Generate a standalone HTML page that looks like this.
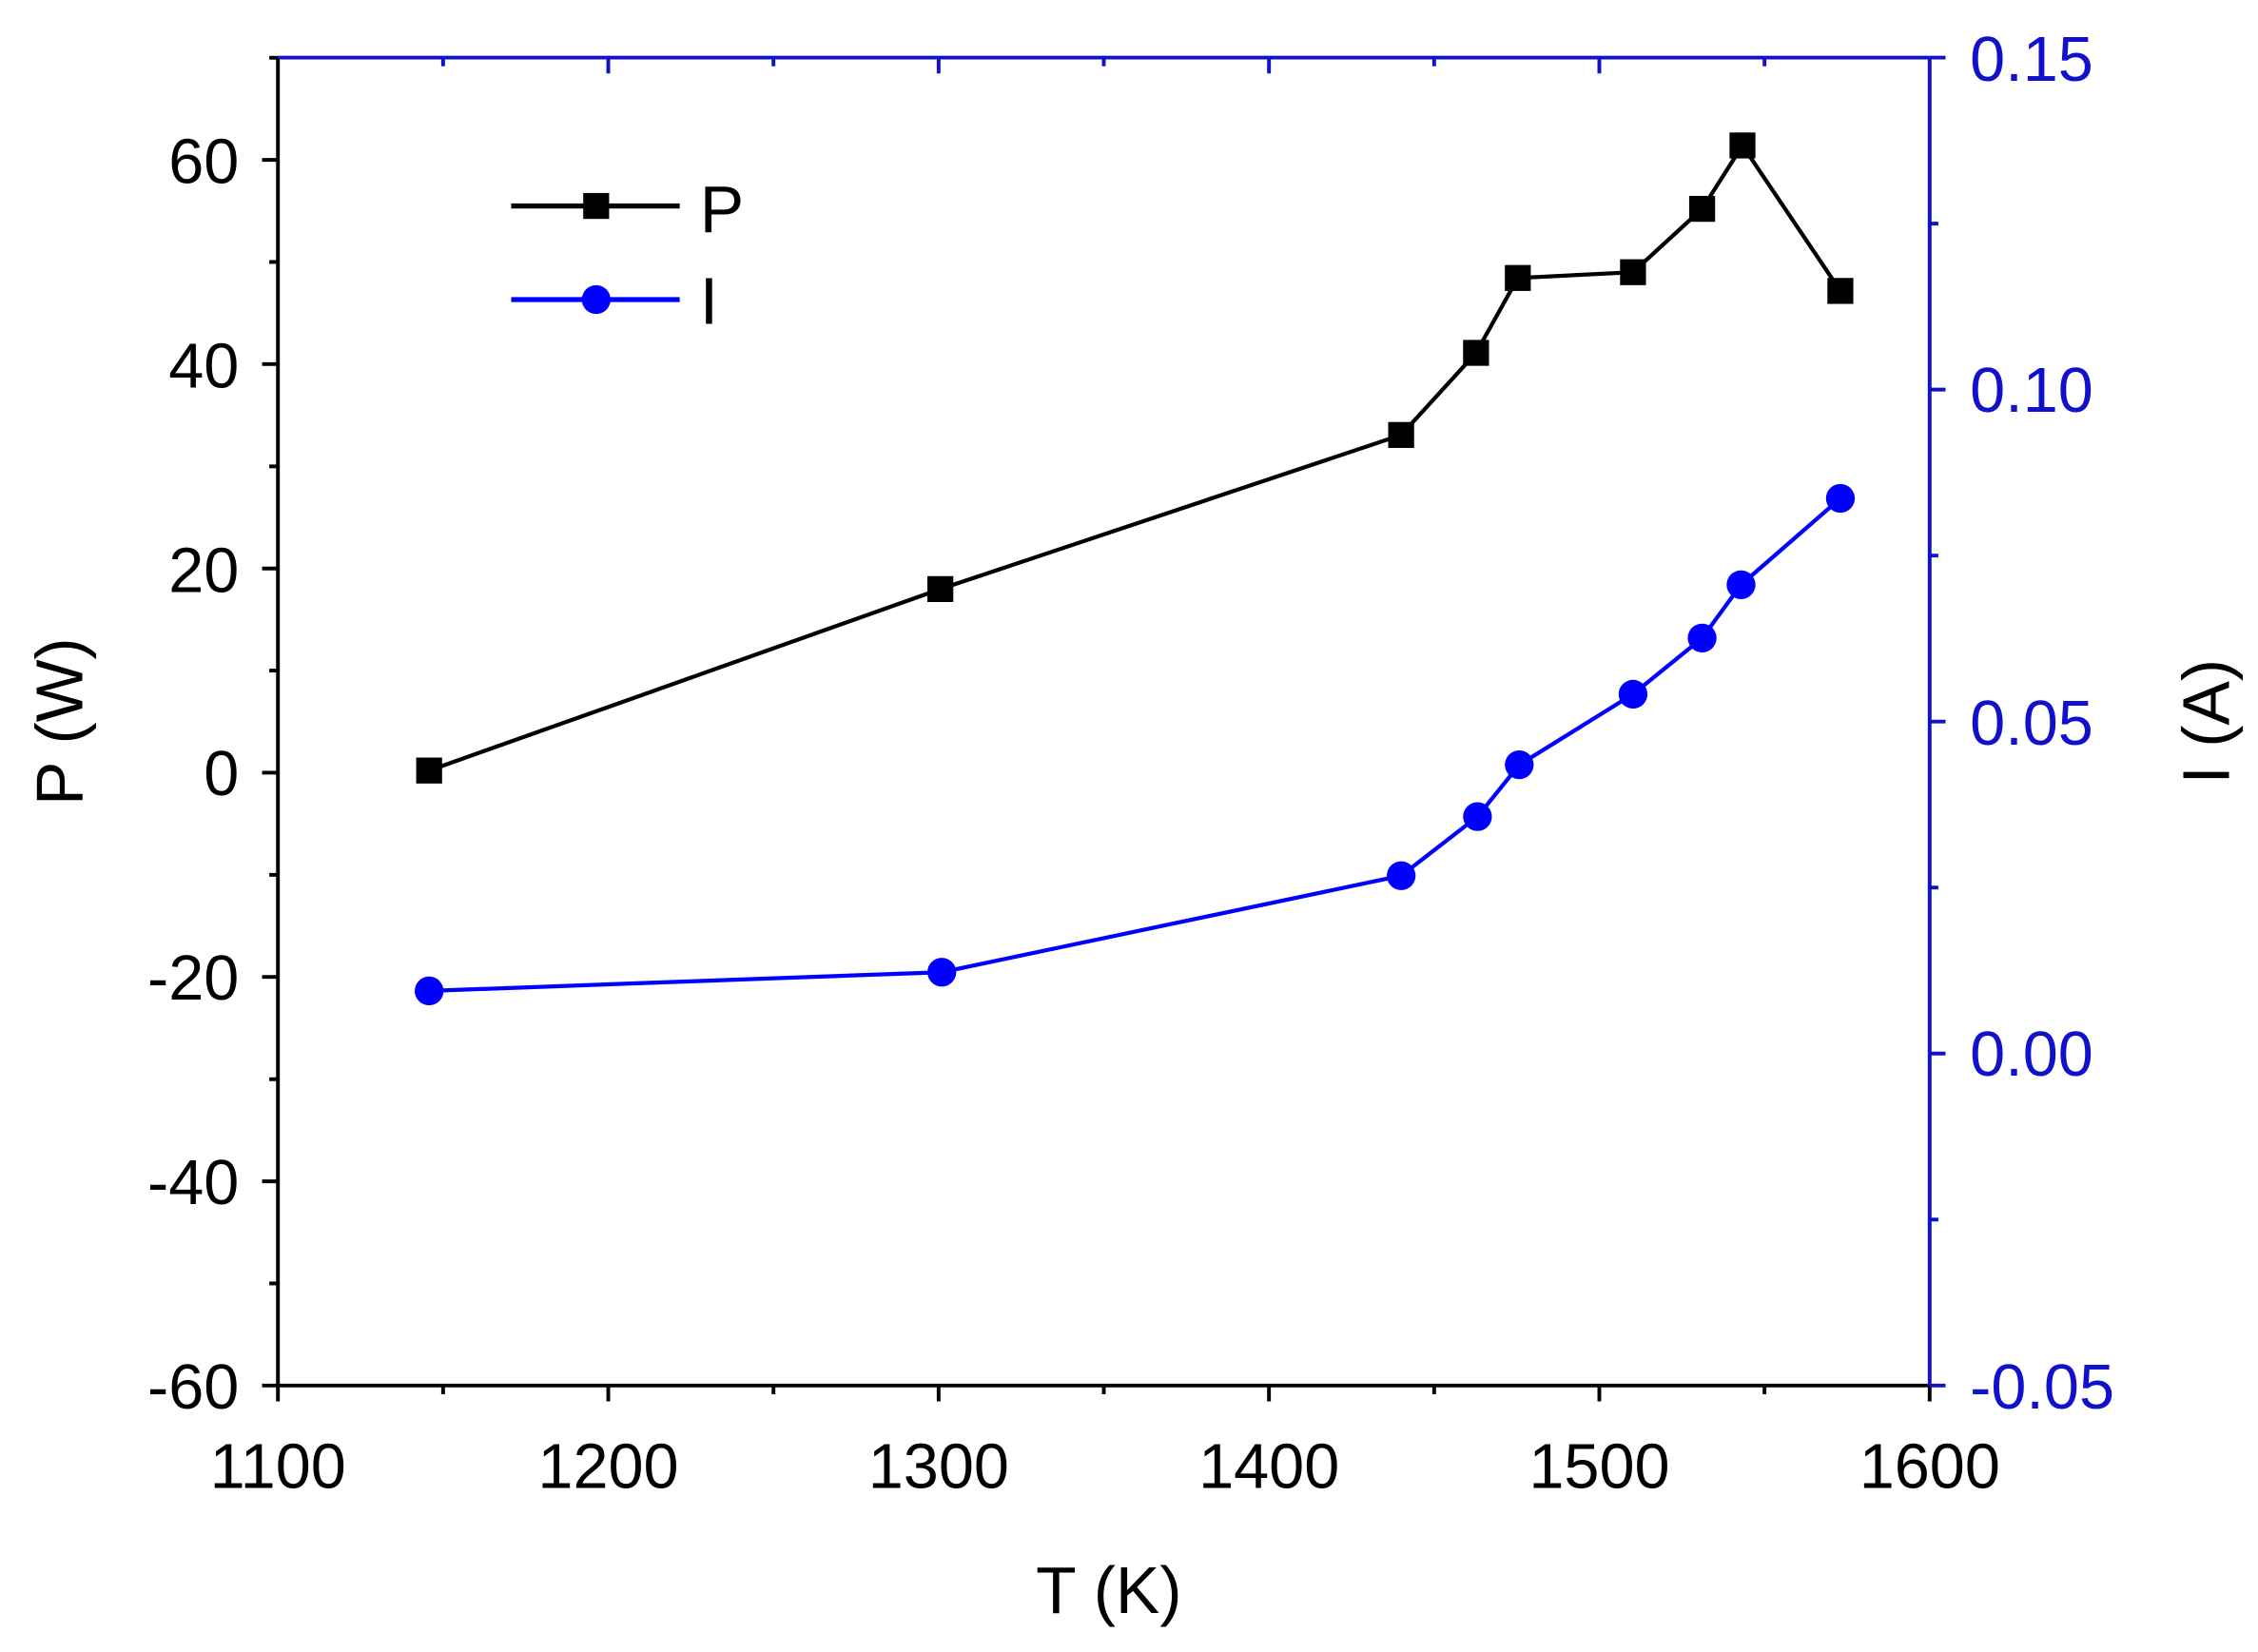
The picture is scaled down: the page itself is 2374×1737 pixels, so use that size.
<!DOCTYPE html>
<html><head><style>html,body{margin:0;padding:0;background:#fff}svg{display:block}</style></head>
<body>
<svg width="2374" height="1737" viewBox="0 0 1568 1147" preserveAspectRatio="none" xmlns="http://www.w3.org/2000/svg" font-family="Liberation Sans, Arial, sans-serif">
<g stroke-width="2.6" fill="none">
<line x1="193" y1="40" x2="193" y2="962" stroke="#000"/>
<line x1="192" y1="962" x2="1340" y2="962" stroke="#000"/>
<line x1="193" y1="40" x2="1340" y2="40" stroke="#11c"/>
<line x1="1340" y1="40" x2="1340" y2="962" stroke="#11c"/>
<g stroke="#000">
<line x1="193" y1="962" x2="193" y2="973"/><line x1="422.4" y1="962" x2="422.4" y2="973"/><line x1="651.8" y1="962" x2="651.8" y2="973"/><line x1="881.2" y1="962" x2="881.2" y2="973"/><line x1="1110.6" y1="962" x2="1110.6" y2="973"/><line x1="1340" y1="962" x2="1340" y2="973"/>
<line x1="307.7" y1="962" x2="307.7" y2="968"/><line x1="537.1" y1="962" x2="537.1" y2="968"/><line x1="766.5" y1="962" x2="766.5" y2="968"/><line x1="995.9" y1="962" x2="995.9" y2="968"/><line x1="1225.3" y1="962" x2="1225.3" y2="968"/>
</g>
<g stroke="#11c">
<line x1="422.4" y1="40" x2="422.4" y2="51"/><line x1="651.8" y1="40" x2="651.8" y2="51"/><line x1="881.2" y1="40" x2="881.2" y2="51"/><line x1="1110.6" y1="40" x2="1110.6" y2="51"/>
<line x1="307.7" y1="40" x2="307.7" y2="46"/><line x1="537.1" y1="40" x2="537.1" y2="46"/><line x1="766.5" y1="40" x2="766.5" y2="46"/><line x1="995.9" y1="40" x2="995.9" y2="46"/><line x1="1225.3" y1="40" x2="1225.3" y2="46"/>
</g>
<g stroke="#000">
<line x1="182" y1="111" x2="193" y2="111"/><line x1="182" y1="252.8" x2="193" y2="252.8"/><line x1="182" y1="394.7" x2="193" y2="394.7"/><line x1="182" y1="536.5" x2="193" y2="536.5"/><line x1="182" y1="678.3" x2="193" y2="678.3"/><line x1="182" y1="820.2" x2="193" y2="820.2"/><line x1="182" y1="962" x2="193" y2="962"/>
<line x1="187" y1="40.1" x2="193" y2="40.1"/><line x1="187" y1="181.9" x2="193" y2="181.9"/><line x1="187" y1="323.8" x2="193" y2="323.8"/><line x1="187" y1="465.6" x2="193" y2="465.6"/><line x1="187" y1="607.4" x2="193" y2="607.4"/><line x1="187" y1="749.3" x2="193" y2="749.3"/><line x1="187" y1="891.1" x2="193" y2="891.1"/>
</g>
<g stroke="#11c">
<line x1="1340" y1="40" x2="1351" y2="40"/><line x1="1340" y1="270.5" x2="1351" y2="270.5"/><line x1="1340" y1="501" x2="1351" y2="501"/><line x1="1340" y1="731.5" x2="1351" y2="731.5"/><line x1="1340" y1="962" x2="1351" y2="962"/>
<line x1="1340" y1="155.25" x2="1346" y2="155.25"/><line x1="1340" y1="385.75" x2="1346" y2="385.75"/><line x1="1340" y1="616.25" x2="1346" y2="616.25"/><line x1="1340" y1="846.75" x2="1346" y2="846.75"/>
</g>
<polyline stroke="#000" stroke-width="2.8" points="298,535 653,409 973,302 1025,245 1054,193 1134,189 1182,145 1210,101 1278,202"/>
<polyline stroke="#00f" stroke-width="2.8" points="298,688 654,675 973,608 1026,567 1055,531 1134,482 1182,443 1209,406 1278,346"/>
<line x1="355" y1="143" x2="472" y2="143" stroke="#000" stroke-width="3.5"/>
<line x1="355" y1="208" x2="472" y2="208" stroke="#00f" stroke-width="3.5"/>
</g>
<g fill="#000">
<rect x="289" y="526" width="18" height="18"/><rect x="644" y="400" width="18" height="18"/><rect x="964" y="293" width="18" height="18"/><rect x="1016" y="236" width="18" height="18"/><rect x="1045" y="184" width="18" height="18"/><rect x="1125" y="180" width="18" height="18"/><rect x="1173" y="136" width="18" height="18"/><rect x="1201" y="92" width="18" height="18"/><rect x="1269" y="193" width="18" height="18"/>
<rect x="405" y="134" width="18" height="18"/>
</g>
<g fill="#00f">
<circle cx="298" cy="688" r="10"/><circle cx="654" cy="675" r="10"/><circle cx="973" cy="608" r="10"/><circle cx="1026" cy="567" r="10"/><circle cx="1055" cy="531" r="10"/><circle cx="1134" cy="482" r="10"/><circle cx="1182" cy="443" r="10"/><circle cx="1209" cy="406" r="10"/><circle cx="1278" cy="346" r="10"/>
<circle cx="414" cy="208" r="10"/>
</g>
<g font-size="46" fill="#000">
<text x="486" y="161">P</text>
<text x="486" y="225">I</text>
</g>
<g font-size="44" fill="#000" text-anchor="end">
<text x="166" y="127">60</text><text x="166" y="269">40</text><text x="166" y="411">20</text><text x="166" y="552">0</text><text x="166" y="694">-20</text><text x="166" y="836">-40</text><text x="166" y="978">-60</text>
</g>
<g font-size="44" fill="#000" text-anchor="middle">
<text x="193" y="1033">1100</text><text x="422.4" y="1033">1200</text><text x="651.8" y="1033">1300</text><text x="881.2" y="1033">1400</text><text x="1110.6" y="1033">1500</text><text x="1340" y="1033">1600</text>
</g>
<g font-size="44" fill="#11c">
<text x="1368" y="56">0.15</text><text x="1368" y="286">0.10</text><text x="1368" y="517">0.05</text><text x="1368" y="747">0.00</text><text x="1368" y="978">-0.05</text>
</g>
<text x="770" y="1120" font-size="46" text-anchor="middle" fill="#000">T (K)</text>
<text transform="translate(57,501) rotate(-90)" font-size="46" text-anchor="middle" fill="#000">P (W)</text>
<text transform="translate(1548,501) rotate(-90)" font-size="46" text-anchor="middle" fill="#000">I (A)</text>
</svg>
</body></html>
